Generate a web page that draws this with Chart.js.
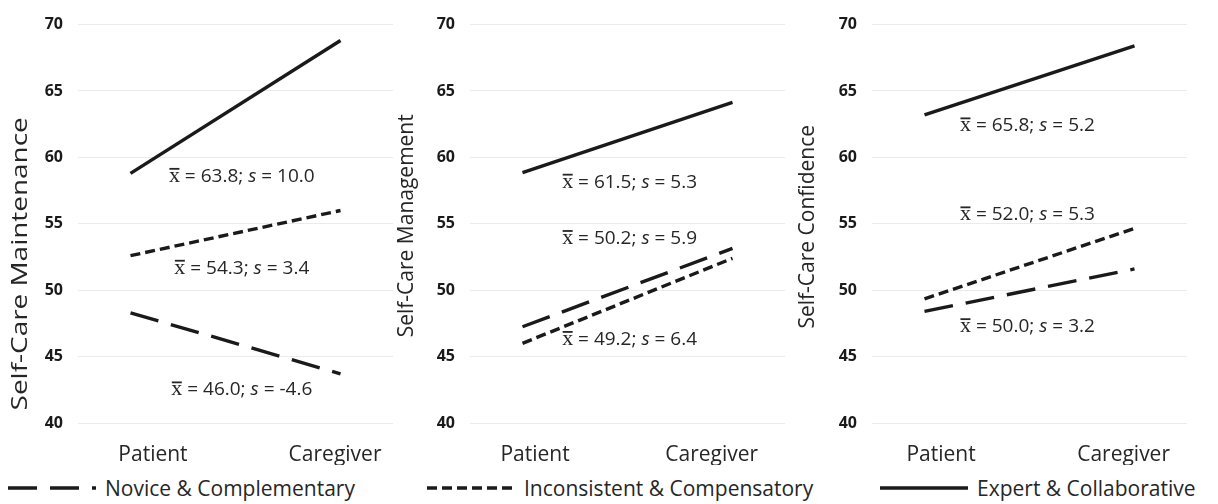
<!DOCTYPE html>
<html>
<head>
<meta charset="utf-8">
<script src="https://cdn.jsdelivr.net/npm/chart.js@4.4.1/dist/chart.umd.min.js"></script>
<style>
  html, body { margin: 0; padding: 0; background: #fff; overflow: hidden; }
  #wrap { position: relative; width: 1218px; height: 504px; overflow: hidden; }
  .panel { position: absolute; top: 0; height: 465px; }
  #p1 { left: 0; width: 395px; }
  #p2 { left: 395px; width: 400px; }
  #p3 { left: 795px; width: 423px; }
  .item { position: absolute; top: 474px; height: 28px; display: flex; align-items: center; gap: 9px;
          font: 21px "Open Sans", sans-serif; color: #262626; white-space: nowrap; }
  .item svg { display: block; }
</style>
</head>
<body>
<div id="wrap">
  <div class="panel" id="p1"><canvas id="c1"></canvas></div>
  <div class="panel" id="p2"><canvas id="c2"></canvas></div>
  <div class="panel" id="p3"><canvas id="c3"></canvas></div>
  <div id="legend"></div>
</div>
<script>
// categories and series
const groups = ['Patient', 'Caregiver'];
const seriesNames = ['Novice & Complementary', 'Inconsistent & Compensatory', 'Expert & Collaborative'];
const axisTitles = ['Self-Care Maintenance', 'Self-Care Management', 'Self-Care Confidence'];

// self-care maintenance
const maintNovice = [48.3, 43.7];
const maintInconsistent = [52.6, 56.0];
const maintExpert = [58.8, 68.8];
const maintMeans = ['46.0', '54.3', '63.8'];
const maintSlopes = ['-4.6', '3.4', '10.0'];

// self-care management
const mgmtNovice = [47.25, 53.15];
const mgmtInconsistent = [46.0, 52.4];
const mgmtExpert = [58.85, 64.15];
const mgmtMeans = ['50.2', '49.2', '61.5'];
const mgmtSlopes = ['5.9', '6.4', '5.3'];

// self-care confidence
const confNovice = [48.4, 51.6];
const confInconsistent = [49.35, 54.65];
const confExpert = [63.2, 68.4];
const confMeans = ['50.0', '52.0', '65.8'];
const confSlopes = ['3.2', '5.3', '5.2'];

const yMin = 40, yMax = 70, yStep = 5;

// styling
const ink = '#1a1a1a';
const textCol = '#262626';
const dashes = [[29, 13], [10, 5], []];
const sans = '"Open Sans", sans-serif';

// where the mean/slope notes sit, in axis units (novice, inconsistent, expert)
const notePos = [
  { x: [0.53, 0.53, 0.53], y: [42.6, 51.76, 58.68] },
  { x: [0.51, 0.51, 0.51], y: [54.0, 46.4, 58.24] },
  { x: [0.49, 0.49, 0.49], y: [47.36, 55.78, 62.48] }
];
// where the category labels sit under each panel
const labelSpots = [[0.107, 0.974], [0.06, 0.901], [0.079, 0.948]];
const legendLeft = [8, 427, 880];

const sideTitle = {
  id: 'sideTitle',
  afterDraw(chart, args, opts) {
    const ctx = chart.ctx;
    const area = chart.chartArea;
    ctx.save();
    ctx.translate(opts.x, (area.top + area.bottom) / 2 + opts.shift);
    ctx.rotate(-Math.PI / 2);
    ctx.scale(opts.stretch, 1);
    ctx.font = '21px ' + sans;
    ctx.fillStyle = textCol;
    ctx.textAlign = 'center';
    ctx.textBaseline = 'middle';
    ctx.fillText(opts.text, 0, 0);
    ctx.restore();
  }
};

const notes = {
  id: 'notes',
  afterDatasetsDraw(chart, args, opts) {
    const ctx = chart.ctx;
    const xs = chart.scales.x, ys = chart.scales.y;
    ctx.save();
    ctx.fillStyle = textCol;
    ctx.textBaseline = 'alphabetic';
    ctx.textAlign = 'left';
    opts.items.forEach(it => {
      const runs = [
        { t: 'x', f: '22px "Liberation Serif", serif', bar: true },
        { t: ' = ' + it.mean + '; ', f: '19px ' + sans },
        { t: 's', f: 'italic 19px ' + sans },
        { t: ' = ' + it.s, f: '19px ' + sans }
      ];
      let total = 0;
      runs.forEach(r => { ctx.font = r.f; r.w = ctx.measureText(r.t).width; total += r.w; });
      let x = xs.getPixelForValue(it.x) - total / 2;
      const base = ys.getPixelForValue(it.y) + 7;
      runs.forEach(r => {
        ctx.font = r.f;
        ctx.fillText(r.t, x, base);
        if (r.bar) ctx.fillRect(x + 0.5, base - 14, r.w - 1, 1.8);
        x += r.w;
      });
    });
    ctx.restore();
  }
};

function makePanel(canvasId, idx, lines, means, slopes, yWidth, rightPad, titleX, titleShift, stretch) {
  const pos = notePos[idx];
  return new Chart(document.getElementById(canvasId), {
    type: 'line',
    data: {
      datasets: lines.map((vals, i) => ({
        label: seriesNames[i],
        data: vals.map((v, j) => ({ x: j, y: v })),
        borderColor: ink,
        borderWidth: 3.4,
        borderDash: dashes[i],
        borderCapStyle: 'butt',
        pointRadius: 0,
        fill: false,
        tension: 0
      }))
    },
    options: {
      animation: false,
      responsive: true,
      maintainAspectRatio: false,
      layout: { padding: { top: 20, right: rightPad, left: 0, bottom: 0 } },
      plugins: {
        legend: { display: false },
        tooltip: { enabled: false },
        sideTitle: { text: axisTitles[idx], x: titleX, shift: titleShift, stretch: stretch },
        notes: { items: means.map((m, i) => ({ mean: m, s: slopes[i], x: pos.x[i], y: pos.y[i] })) }
      },
      scales: {
        x: {
          type: 'linear',
          min: -0.25,
          max: 1.25,
          grid: { display: false },
          border: { display: false },
          afterBuildTicks: s => { s.ticks = labelSpots[idx].map(v => ({ value: v })); },
          afterFit: s => { s.height = 42; },
          ticks: {
            callback: (v, i) => groups[i],
            autoSkip: false,
            maxRotation: 0,
            padding: 11,
            color: textCol,
            font: { family: 'Open Sans', size: 21 }
          }
        },
        y: {
          min: yMin,
          max: yMax,
          afterFit: s => { s.width = yWidth; },
          grid: { color: '#ebebeb', lineWidth: 1, drawTicks: false },
          border: { display: false },
          ticks: {
            stepSize: yStep,
            padding: 15,
            color: ink,
            font: { family: 'Open Sans', size: 16, weight: 'bold' }
          }
        }
      }
    },
    plugins: [sideTitle, notes]
  });
}

makePanel('c1', 0, [maintNovice, maintInconsistent, maintExpert], maintMeans, maintSlopes, 78, 2, 21, 40, 1.33);
makePanel('c2', 1, [mgmtNovice, mgmtInconsistent, mgmtExpert], mgmtMeans, mgmtSlopes, 75, 10, 12, 2, 1);
makePanel('c3', 2, [confNovice, confInconsistent, confExpert], confMeans, confSlopes, 77, 31, 13, 3, 1);

// shared legend under the three panels
const legend = document.getElementById('legend');
seriesNames.forEach((name, i) => {
  const item = document.createElement('div');
  item.className = 'item';
  item.style.left = legendLeft[i] + 'px';
  const svgNS = 'http://www.w3.org/2000/svg';
  const svg = document.createElementNS(svgNS, 'svg');
  svg.setAttribute('width', '88');
  svg.setAttribute('height', '8');
  const line = document.createElementNS(svgNS, 'line');
  line.setAttribute('x1', '0');
  line.setAttribute('y1', '4');
  line.setAttribute('x2', '88');
  line.setAttribute('y2', '4');
  line.setAttribute('stroke', ink);
  line.setAttribute('stroke-width', '3.4');
  if (dashes[i].length) line.setAttribute('stroke-dasharray', dashes[i].join(' '));
  svg.appendChild(line);
  const label = document.createElement('span');
  label.textContent = name;
  item.appendChild(svg);
  item.appendChild(label);
  legend.appendChild(item);
});
</script>
</body>
</html>
